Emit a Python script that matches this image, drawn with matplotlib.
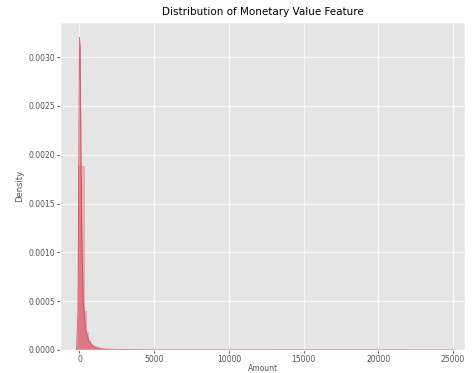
import numpy as np
import matplotlib
matplotlib.use("Agg")
import matplotlib.pyplot as plt

plt.style.use("ggplot")

# histogram bins (left edge, width) and density heights
bin_left = [-100, 50, 200, 350, 500, 650, 800, 950, 1100, 1250, 1500, 2000, 3000]
bin_width = [150, 150, 150, 150, 150, 150, 150, 150, 150, 250, 500, 1000, 22000]
bin_density = [0.00188, 0.00188, 0.00188, 0.00040, 0.00018, 0.00009, 0.00005,
               0.00003, 0.00002, 0.000012, 0.000006, 0.000002, 0.0000003]

# kde curve points
kde_x = [-200, -100, -40, 0, 40, 90, 150, 250, 400, 600, 900, 1500, 2500, 5000, 10000, 15000, 20000, 25000]
kde_y = [0.0, 0.0004, 0.0022, 0.0032, 0.0031, 0.0022, 0.0012, 0.0005, 0.00022, 0.0001,
         0.00004, 0.00001, 0.000004, 0.000001, 0.0000005, 0.0000003, 0.0000002, 0.0]

xticks = [0, 5000, 10000, 15000, 20000, 25000]
yticks = [0.0, 0.0005, 0.0010, 0.0015, 0.0020, 0.0025, 0.0030]

fig = plt.figure(figsize=(4.73, 3.73), dpi=100)
ax = fig.add_axes([0.127, 0.062, 0.856, 0.879])

ax.bar(bin_left, bin_density, width=bin_width, align="edge",
       color="#E88A8A", alpha=0.6, linewidth=0)
ax.fill_between(kde_x, kde_y, color="#D9536A", alpha=0.6, linewidth=0)
ax.plot(kde_x, kde_y, color="#D24B5E", linewidth=0.7, alpha=0.8)

ax.set_xlim(-1300, 25800)
ax.set_ylim(0, 0.00336)
ax.set_xticks(xticks)
ax.set_yticks(yticks)
ax.set_yticklabels([f"{v:.4f}" for v in yticks])
ax.tick_params(labelsize=5.5, colors="#555555", length=2, pad=1.5)
ax.grid(color="white", linewidth=0.8, alpha=0.7)

ax.set_title("Distribution of Monetary Value Feature", fontsize=7.5, pad=5)
ax.set_xlabel("Amount", fontsize=5.5, labelpad=0)
ax.set_ylabel("Density", fontsize=6, labelpad=3)

fig.savefig("out.png", dpi=100)
